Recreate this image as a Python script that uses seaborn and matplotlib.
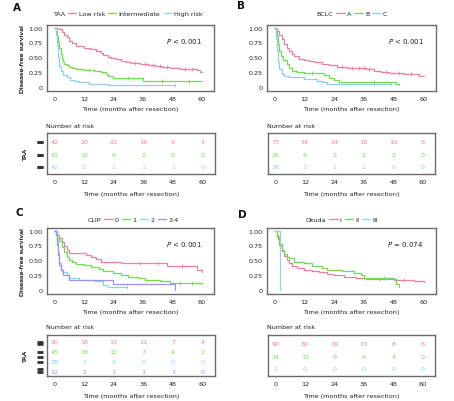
import matplotlib
matplotlib.use("Agg")
import matplotlib.pyplot as plt
import matplotlib.transforms as mtrans
from matplotlib.lines import Line2D
import numpy as np
import pandas as pd
import seaborn as sns

sns.set_theme(style="white")
plt.rcParams['font.family'] = ['DejaVu Sans']
FS = 4.6

# ---------------- data ----------------
risk_times = [0, 12, 24, 36, 48, 60]

# Panel A: TAA
taa_labels = ["Low risk", "Intermediate", "High risk"]
taa_low_t = [0, 1.5, 3, 4, 5, 6, 7, 9, 12, 14.5, 17, 19, 20, 22, 23, 25, 27, 29, 31, 35, 38, 41, 44, 47, 51, 58, 59.5, 60]
taa_low_s = [1.0, 0.97, 0.93, 0.88, 0.84, 0.78, 0.74, 0.69, 0.66, 0.63, 0.60, 0.57, 0.54, 0.51, 0.48, 0.46, 0.44, 0.42, 0.40, 0.38, 0.36, 0.35, 0.33, 0.32, 0.30, 0.28, 0.24, 0.24]
taa_low_c = [33, 37, 40, 43, 46, 53, 56]
taa_int_t = [0, 0.5, 1, 1.5, 2, 2.5, 3, 3.5, 4, 5, 6, 7, 9, 12, 16, 19, 21, 22, 24, 36, 60]
taa_int_s = [1.0, 0.95, 0.85, 0.75, 0.65, 0.55, 0.47, 0.42, 0.39, 0.36, 0.34, 0.32, 0.30, 0.28, 0.26, 0.24, 0.21, 0.18, 0.15, 0.10, 0.10]
taa_int_c = [14, 30, 44, 55]
taa_high_t = [0, 0.5, 1, 1.5, 2, 2.5, 3.5, 5, 6.5, 8, 10, 14, 22, 49]
taa_high_s = [1.0, 0.88, 0.70, 0.50, 0.35, 0.26, 0.20, 0.16, 0.12, 0.10, 0.08, 0.05, 0.02, 0.02]
taa_high_c = [49]
taa_risk = [[42, 20, 21, 16, 9, 4], [41, 12, 6, 2, 2, 2], [42, 3, 1, 1, 1, 0]]

# Panel B: BCLC
bclc_labels = ["A", "B", "C"]
bclc_a_t = [0, 1, 2, 3, 4, 5, 6, 7, 8, 10, 12, 14, 16, 19, 22, 25, 29, 33, 37, 40, 43, 46, 52, 58, 60]
bclc_a_s = [1.0, 0.95, 0.88, 0.80, 0.72, 0.66, 0.60, 0.56, 0.52, 0.47, 0.45, 0.43, 0.41, 0.38, 0.36, 0.34, 0.32, 0.31, 0.30, 0.27, 0.24, 0.23, 0.22, 0.18, 0.18]
bclc_a_c = [27, 31, 34, 36, 38, 45, 50, 55]
bclc_b_t = [0, 0.5, 1, 1.5, 2, 2.5, 3.5, 5, 6, 7, 9, 12, 18, 20, 22, 24, 26, 48, 49, 50]
bclc_b_s = [1.0, 0.95, 0.85, 0.72, 0.60, 0.52, 0.45, 0.38, 0.31, 0.27, 0.25, 0.23, 0.23, 0.19, 0.15, 0.12, 0.08, 0.08, 0.04, 0.02]
bclc_b_c = [15, 40]
bclc_c_t = [0, 0.5, 1, 1.5, 2, 3, 4, 6, 12, 17, 19, 21, 47]
bclc_c_s = [1.0, 0.80, 0.60, 0.42, 0.30, 0.22, 0.18, 0.16, 0.13, 0.10, 0.07, 0.04, 0.04]
bclc_c_c = [47]
bclc_risk = [[73, 34, 24, 16, 10, 6], [26, 6, 3, 2, 2, 0], [26, 3, 1, 1, 0, 0]]

# Panel C: CLIP
clip_labels = ["0", "1", "2", "3-4"]
clip0_t = [0, 1, 2, 3, 4, 5, 6, 13, 15, 17, 19, 27, 46, 58, 60]
clip0_s = [1.0, 0.93, 0.87, 0.80, 0.74, 0.68, 0.62, 0.59, 0.55, 0.52, 0.47, 0.45, 0.40, 0.33, 0.30]
clip0_c = [35, 42, 52]
clip1_t = [0, 1, 2, 3, 4, 5, 6, 7, 9, 12, 15, 18, 20, 24, 27, 30, 34, 37, 43, 47, 60]
clip1_s = [1.0, 0.93, 0.82, 0.72, 0.63, 0.56, 0.50, 0.47, 0.44, 0.41, 0.38, 0.35, 0.32, 0.28, 0.25, 0.22, 0.19, 0.16, 0.14, 0.11, 0.10]
clip1_c = [51, 56]
clip2_t = [0, 1, 1.5, 2, 2.5, 3, 5, 6, 10, 16, 20, 22, 29.5]
clip2_s = [1.0, 0.85, 0.64, 0.45, 0.35, 0.30, 0.25, 0.19, 0.17, 0.14, 0.08, 0.05, 0.05]
clip2_c = [29.5]
clip34_t = [0, 0.8, 1.2, 1.6, 2, 2.5, 3.5, 6, 24, 49]
clip34_s = [1.0, 0.92, 0.75, 0.58, 0.42, 0.33, 0.25, 0.17, 0.10, 0.0]
clip34_c = []
clip_risk = [[30, 18, 13, 11, 7, 4], [45, 18, 12, 7, 4, 2], [38, 5, 2, 0, 0, 0], [12, 2, 1, 1, 1, 0]]

# Panel D: Okuda
okuda_labels = ["Ⅰ", "Ⅱ", "Ⅲ"]
ok1_t = [0, 1, 1.5, 2, 3, 4, 5, 6, 7, 9, 12, 15, 18, 21, 24, 28, 33, 37, 48, 56, 60]
ok1_s = [1.0, 0.92, 0.85, 0.76, 0.66, 0.57, 0.50, 0.45, 0.40, 0.37, 0.34, 0.32, 0.30, 0.27, 0.24, 0.22, 0.20, 0.18, 0.17, 0.15, 0.13]
ok1_c = [36, 42, 52]
ok2_t = [0, 1, 2, 3, 4, 5, 6, 8, 12, 15, 19, 21, 27, 32, 35, 36, 48, 49, 50]
ok2_s = [1.0, 0.90, 0.78, 0.67, 0.60, 0.56, 0.53, 0.47, 0.45, 0.40, 0.37, 0.34, 0.31, 0.28, 0.25, 0.19, 0.18, 0.10, 0.05]
ok2_c = [44]
ok3_t = [0, 2.3]
ok3_s = [1.0, 0.0]
ok3_c = []
okuda_risk = [[90, 30, 19, 13, 8, 6], [34, 13, 9, 6, 4, 0], [1, 0, 0, 0, 0, 0]]

PINK, GREEN, BLUE, CYAN, PURPLE = "#EC7FA2", "#72DB4E", "#8FD0EE", "#7ADCDC", "#A391E6"

panels = [
    dict(letter="A", title="TAA", labels=taa_labels, colors=[PINK, GREEN, BLUE],
         curves=[(taa_low_t, taa_low_s, taa_low_c), (taa_int_t, taa_int_s, taa_int_c),
                 (taa_high_t, taa_high_s, taa_high_c)],
         risk=taa_risk, ptext="$P$ < 0.001",
         km=(47, 26, 214, 92), tab=(47, 134, 215, 175), letpos=(16.5, 8), leg=(42, 14)),
    dict(letter="B", title="BCLC", labels=bclc_labels, colors=[PINK, GREEN, BLUE],
         curves=[(bclc_a_t, bclc_a_s, bclc_a_c), (bclc_b_t, bclc_b_s, bclc_b_c),
                 (bclc_c_t, bclc_c_s, bclc_c_c)],
         risk=bclc_risk, ptext="$P$ < 0.001",
         km=(267, 26, 436, 92), tab=(268, 134, 435, 175), letpos=(241.5, 6), leg=(306, 14)),
    dict(letter="C", title="CLIP", labels=clip_labels, colors=[PINK, GREEN, CYAN, PURPLE],
         curves=[(clip0_t, clip0_s, clip0_c), (clip1_t, clip1_s, clip1_c),
                 (clip2_t, clip2_s, clip2_c), (clip34_t, clip34_s, clip34_c)],
         risk=clip_risk, ptext="$P$ < 0.001",
         km=(47, 229, 214, 295), tab=(47, 336, 215, 377), letpos=(19.5, 213.5), leg=(77, 220)),
    dict(letter="D", title="Okuda", labels=okuda_labels, colors=[PINK, GREEN, BLUE],
         curves=[(ok1_t, ok1_s, ok1_c), (ok2_t, ok2_s, ok2_c), (ok3_t, ok3_s, ok3_c)],
         risk=okuda_risk, ptext="$P$ = 0.074",
         km=(267, 229, 436, 295), tab=(268, 336, 435, 377), letpos=(242, 214.5), leg=(295, 220)),
]

W, H = 454, 402
fig = plt.figure(figsize=(W / 100, H / 100), dpi=100)


def rect(box):
    l, t, r, b = box
    return [l / W, 1 - b / H, (r - l) / W, (b - t) / H]


def fx(px):
    return px / W


def fy(py):
    return 1 - py / H


FRAME = "#6b6b6b"
TXT = "#222222"


def style_axes(ax):
    for s in ax.spines.values():
        s.set_color(FRAME)
        s.set_linewidth(1.0)
    ax.tick_params(axis="both", which="both", direction="out", length=2, width=0.6,
                   color=FRAME, labelsize=FS, pad=1.5, labelcolor=TXT)


for p in panels:
    # ---- KM plot ----
    ax = fig.add_axes(rect(p["km"]))
    for (t, s, c), lab, col in zip(p["curves"], p["labels"], p["colors"]):
        df = pd.DataFrame({"t": t, "s": s})
        sns.lineplot(data=df, x="t", y="s", ax=ax, color=col, lw=0.9,
                     drawstyle="steps-post", estimator=None, sort=False, label=lab)
        if len(c):
            idx = np.searchsorted(np.asarray(t), np.asarray(c), side="right") - 1
            cy = np.asarray(s)[idx]
            ax.plot(c, cy, ls="none", marker="|", ms=2.8, mew=0.6, color=col)
    ax.set_xlim(-3, 65)
    ax.set_ylim(-0.075, 1.045)
    ax.set_xticks(risk_times)
    ax.set_yticks([0, 0.25, 0.5, 0.75, 1.0])
    ax.set_yticklabels(["0", "0.25", "0.50", "0.75", "1.00"])
    ax.set_xlabel("")
    ax.set_ylabel("")
    style_axes(ax)
    ax.text(60, 0.775, p["ptext"], ha="right", va="center", fontsize=FS + 0.4, color=TXT)

    l, t, r, b = p["km"]
    fig.text(fx(23), fy((t + b) / 2), "Disease-free survival", rotation=90,
             ha="center", va="center", fontsize=FS, color=TXT)
    fig.text(fx((l + r) / 2), fy(b + 17.5), "Time (months after resection)",
             ha="center", va="center", fontsize=FS, color=TXT)
    fig.text(fx(p["letpos"][0]), fy(p["letpos"][1]), p["letter"], ha="center", va="center",
             fontsize=7.5, fontweight="bold", color="#111111")

    # legend with inline title
    handles = [Line2D([], [], color="none")] + \
              [Line2D([], [], color=c, lw=0.9) for c in p["colors"]]
    labels = [p["title"]] + p["labels"]
    ax.get_legend().remove()
    leg = fig.legend(handles, labels, loc="center left",
                     bbox_to_anchor=(fx(p["leg"][0]), fy(p["leg"][1])),
                     ncol=len(labels), frameon=False, fontsize=FS,
                     handlelength=1.3, handletextpad=0.35, columnspacing=0.5,
                     borderpad=0, borderaxespad=0)
    for txt in leg.get_texts():
        txt.set_color(TXT)

    # ---- risk table ----
    tx = fig.add_axes(rect(p["tab"]))
    n = len(p["risk"])
    if n == 3:
        tx.set_ylim(2.56, -0.72)
    else:
        tx.set_ylim(3.43, -0.67)
    tx.set_xlim(-3, 65)
    for i, (vals, col) in enumerate(zip(p["risk"], p["colors"])):
        for tt, v in zip(risk_times, vals):
            tx.text(tt, i, str(v), ha="center", va="center", fontsize=FS, color=col)
    tx.set_xticks(risk_times)
    tx.set_yticks([])
    style_axes(tx)
    trans = mtrans.blended_transform_factory(tx.transAxes, tx.transData)
    tl, tt_, tr, tb = p["tab"]
    for i in range(n):
        tx.plot([(37 - tl) / (tr - tl), (43 - tl) / (tr - tl)], [i, i], transform=trans,
                clip_on=False, color="#333333", lw=2.0, solid_capstyle="butt")
    fig.text(fx(26), fy((tt_ + tb) / 2), "TAA", rotation=90, ha="center", va="center",
             fontsize=FS, color=TXT)
    fig.text(fx(tl - 1), fy(tt_ - 8), "Number at risk", ha="left", va="center",
             fontsize=FS, color=TXT)
    fig.text(fx((tl + tr) / 2), fy(tb + 19.5), "Time (months after resection)",
             ha="center", va="center", fontsize=FS, color=TXT)

fig.savefig("out.png", dpi=100)
